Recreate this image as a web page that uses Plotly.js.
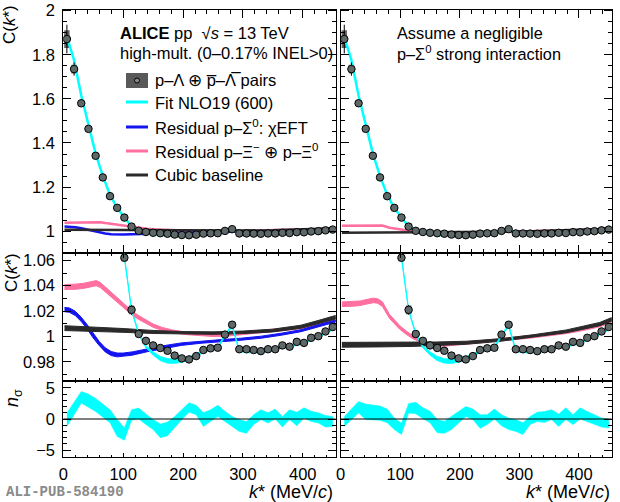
<!DOCTYPE html>
<html><head><meta charset="utf-8">
<script src="https://cdn.plot.ly/plotly-3.0.1.min.js"></script>
<style>html,body{margin:0;padding:0;background:#fff}#plot{width:620px;height:502px}</style>
</head><body><div id="plot"></div>
<script>
// ---------- data ----------
const kData = [6,18,30,42,54,66,78,90,102,114,126,138,150,162,174,186,198,210,222,234,246,258,270,282,294,306,318,330,342,354,366,378,390,402,414,426,438,450];
const cData = [1.871,1.735,1.580,1.464,1.342,1.244,1.159,1.106,1.062,1.021,1.002,0.9966,0.993,0.991,0.9888,0.985,0.9828,0.982,0.9846,0.9894,0.9907,0.9912,1.0015,1.0093,0.990,0.990,0.9894,0.9885,0.990,0.990,0.993,0.992,0.9958,0.995,0.999,1.0003,1.004,1.0075];
const statErr = [0.065,0.03,0.016,0.011,0.008,0.006,0.005,0.0045,0.003,0.0038,0.0025,0.002,0.002,0.0018,0.0018,0.0016,0.0016,0.0015,0.0015,0.0014,0.0014,0.0013,0.0013,0.0013,0.0012,0.0012,0.0012,0.0011,0.0011,0.0011,0.0011,0.001,0.001,0.001,0.001,0.001,0.001,0.001];
const systErr = [0.04,0.02,0.012,0.009,0.007,0.005,0.004,0.0035,0.0028,0.0035,0.0022,0.0018,0.0017,0.0016,0.0016,0.0015,0.0015,0.0015,0.0015,0.0015,0.0015,0.0015,0.0015,0.0015,0.0015,0.0015,0.0015,0.0015,0.0015,0.0015,0.0015,0.0015,0.0015,0.0015,0.0015,0.0015,0.0015,0.0015];

// Fit NLO19 (600), evaluated at bin centres
const fitC  = [1.882,1.775,1.615,1.478,1.352,1.25,1.165,1.105,1.062,1.021,1.002,0.992,0.9867,0.9827,0.9808,0.9806,0.9814,0.9827,0.985,0.9886,0.990,0.991,1.001,1.0085,0.989,0.988,0.988,0.988,0.989,0.990,0.992,0.992,0.994,0.995,0.998,1.000,1.003,1.006];
const fitCh = [0.004,0.003,0.003,0.003,0.002,0.002,0.0015,0.001,0.0006,0.0006,0.0006,0.0008,0.0012,0.0016,0.0017,0.0017,0.0016,0.0015,0.0013,0.001,0.0008,0.0008,0.0008,0.0008,0.0008,0.0008,0.0008,0.0008,0.0008,0.0008,0.0008,0.0008,0.0008,0.0008,0.0008,0.0008,0.0008,0.0008];

// Left: residual p-Sigma0 chiEFT
const kBlueL = [2,10,20,30,40,50,60,70,80,90,100,115,140,165,197,230,264,297,331,364,397,427,455];
const blueL  = [1.0212,1.0208,1.0182,1.0135,1.0075,1.0005,0.9945,0.9895,0.9866,0.9855,0.9856,0.9866,0.9892,0.9915,0.9940,0.9956,0.9968,0.9979,0.9995,1.0018,1.0046,1.0087,1.0122];
const blueLh = [0.0017,0.0017,0.0017,0.0017,0.0017,0.0017,0.0016,0.0016,0.0016,0.0015,0.0014,0.0013,0.0012,0.0011,0.001,0.0009,0.0008,0.0008,0.0008,0.0008,0.0008,0.0008,0.0008];

// Left: residual p-Xi
const kPinkL = [2,20,35,48,55,62,70,83,95,105,116,127,140,150,165,183,205,228,250,272,295,317,340,362,385,406,427,455];
const pinkL  = [1.039,1.0392,1.040,1.0413,1.042,1.0405,1.037,1.032,1.027,1.0225,1.018,1.0147,1.011,1.0086,1.006,1.004,1.0025,1.0015,1.001,1.0012,1.002,1.0032,1.0042,1.0054,1.0065,1.0078,1.0100,1.0138];
const pinkLh = [0.002,0.002,0.002,0.002,0.002,0.002,0.002,0.002,0.0018,0.0017,0.0016,0.0015,0.0014,0.0013,0.0012,0.0011,0.001,0.001,0.001,0.001,0.001,0.001,0.001,0.001,0.001,0.001,0.001,0.0011];

// Left: cubic baseline
const kBlackL = [2,50,100,150,200,250,300,350,397,427,455];
const blackL  = [1.0066,1.0058,1.0048,1.0036,1.0029,1.0027,1.0033,1.0047,1.0077,1.0115,1.0152];
const blackLh = [0.0019,0.0017,0.0015,0.0012,0.001,0.001,0.001,0.0011,0.0012,0.0013,0.0014];

// Right: residual p-Xi
const kPinkR = [2,20,33,45,55,62,70,82,99,110,121,133,144,158,172,190,211,240,267,295,323,351,379,407,435,455];
const pinkR  = [1.0254,1.0256,1.0262,1.0275,1.0284,1.028,1.0255,1.0158,1.0072,1.003,0.9995,0.997,0.9948,0.9938,0.9933,0.9936,0.9946,0.996,0.9974,0.9987,1.0,1.0015,1.0033,1.0057,1.0087,1.0122];
const pinkRh = [0.0018,0.0018,0.0018,0.0018,0.0018,0.0018,0.0018,0.0016,0.0014,0.0013,0.0012,0.0011,0.001,0.001,0.001,0.001,0.001,0.001,0.001,0.001,0.001,0.001,0.001,0.001,0.001,0.0011];

// Right: cubic baseline
const kBlackR = [2,60,120,160,211,267,323,379,435,455];
const blackR  = [0.9935,0.9936,0.9938,0.9943,0.9951,0.9972,1.0004,1.0041,1.0098,1.0135];
const blackRh = [0.0019,0.0018,0.0016,0.0014,0.0012,0.001,0.001,0.0011,0.0013,0.0014];

// n_sigma bands
const nsL_lo = [-1.2,0.7,2.55,1.9,1.2,0.3,-0.6,-2.8,-3.4,-0.2,0,-0.9,-1.7,-3.0,-2.7,-1.4,-0.1,1.1,0.7,-1.2,-0.4,0.4,-0.4,-1.2,-2.0,-2.3,-0.9,-0.1,-0.65,0,-1.3,-0.1,-1.1,0.15,-0.4,-0.65,-1.3,-1.2];
const nsL_hi = [0.95,2.7,4.4,4.0,3.3,2.4,1.5,-0.1,-1.4,1.5,1.75,0.8,-0.1,-0.8,-0.5,0.4,1.5,2.6,2.2,1.0,1.5,2.2,1.25,0.4,-0.1,-0.4,0.7,1.5,1.0,1.6,0.4,1.5,1.1,1.8,1.25,1.0,0.55,0.4];
const nsR_lo = [-1.2,-0.2,0.95,-0.1,-0.15,-0.2,-0.6,-1.7,-2.5,0.95,0.85,0.05,-0.6,-2.2,-2.3,-1.7,-0.65,0.4,-0.1,-1.5,-0.9,0,-1.1,-1.7,-2.0,-2.5,-0.9,-0.4,-0.55,-0.1,-1.2,-0.1,-0.9,0,-0.4,-0.9,-1.3,-1.45];
const nsR_hi = [0.4,1.6,2.8,2.4,2.25,2.1,1.6,0.15,-0.7,2.5,2.7,1.8,1.25,-0.1,-0.35,0.4,1.25,2.0,1.6,0.7,0.7,1.6,0.7,0.15,-0.1,-0.6,0.4,1.1,1.2,1.5,0.8,1.8,0.7,1.8,1.2,0.7,0.15,0];

const xTicks = [0,100,200,300,400];

// ---------- colours ----------
const CYAN='#00ffff', BLUE='#1414f0', PINK='#ff6f9f', BLACK='#2a2a2a';

// ---------- helpers ----------
function line(k, c, color, w, xa, ya){
  return {type:'scatter', mode:'lines', x:k, y:c, xaxis:xa, yaxis:ya,
          line:{color:color, width:w}, hoverinfo:'skip'};
}
function band(k, c, h, color, xa, ya){
  const xs = k.concat(k.slice().reverse());
  const ys = c.map((v,i)=>v+h[i]).concat(c.map((v,i)=>v-h[i]).reverse());
  return {type:'scatter', mode:'lines', x:xs, y:ys, xaxis:xa, yaxis:ya, fill:'toself',
          fillcolor:color, line:{color:color, width:1}, hoverinfo:'skip'};
}
function loHiBand(k, lo, hi, color, xa, ya){
  const xs = k.concat(k.slice().reverse());
  const ys = hi.concat(lo.slice().reverse());
  return {type:'scatter', mode:'lines', x:xs, y:ys, xaxis:xa, yaxis:ya, fill:'toself',
          fillcolor:color, line:{color:color, width:0.5}, hoverinfo:'skip'};
}
function syst(xa, ya){
  return {type:'bar', x:kData, y:systErr.map(s=>2*s), base:cData.map((c,i)=>c-systErr[i]),
          width:9, xaxis:xa, yaxis:ya, marker:{color:'rgba(60,60,60,0.8)', line:{width:0}}, hoverinfo:'skip'};
}
function pts(xa, ya){
  return {type:'scatter', mode:'markers', x:kData, y:cData, xaxis:xa, yaxis:ya,
          error_y:{type:'data', array:statErr, color:'#000', thickness:1, width:0},
          marker:{symbol:'circle', size:7.5, color:'#5e6868', line:{color:'#000', width:1}}, hoverinfo:'skip'};
}

const traces = [];
// top left
traces.push(syst('x','y'));
traces.push(line(kPinkL, pinkL, PINK, 2.5, 'x','y'));
traces.push(line(kBlueL, blueL, BLUE, 2.5, 'x','y'));
traces.push(line(kBlackL, blackL, BLACK, 2.5, 'x','y'));
traces.push(line(kData, fitC, CYAN, 2.5, 'x','y'));
traces.push(pts('x','y'));
// top right
traces.push(syst('x2','y2'));
traces.push(line(kPinkR, pinkR, PINK, 2.5, 'x2','y2'));
traces.push(line(kBlackR, blackR, BLACK, 2.5, 'x2','y2'));
traces.push(line(kData, fitC, CYAN, 2.5, 'x2','y2'));
traces.push(pts('x2','y2'));
// middle left
traces.push(syst('x3','y3'));
traces.push(band(kPinkL, pinkL, pinkLh, PINK, 'x3','y3'));
traces.push(band(kBlueL, blueL, blueLh, BLUE, 'x3','y3'));
traces.push(band(kBlackL, blackL, blackLh, BLACK, 'x3','y3'));
traces.push(band(kData, fitC, fitCh, CYAN, 'x3','y3'));
traces.push(pts('x3','y3'));
// middle right
traces.push(syst('x4','y4'));
traces.push(band(kPinkR, pinkR, pinkRh, PINK, 'x4','y4'));
traces.push(band(kBlackR, blackR, blackRh, BLACK, 'x4','y4'));
traces.push(band(kData, fitC, fitCh, CYAN, 'x4','y4'));
traces.push(pts('x4','y4'));
// bottom
traces.push(loHiBand(kData, nsL_lo, nsL_hi, CYAN, 'x5','y5'));
traces.push(loHiBand(kData, nsR_lo, nsR_hi, CYAN, 'x6','y6'));

// ---------- layout ----------
const W=620, H=502;
const fx = p => p/W, fy = p => 1 - p/H;
const xL=[fx(63.3), fx(335.7)], xR=[fx(340.7), fx(611.7)];
const yT=[fy(253.3), fy(9.5)], yM=[fy(381), fy(253.3)], yB=[fy(457), fy(381)];
const FONT='Liberation Sans, Arial, Helvetica, sans-serif';

function xax(domain, anchor, labels, tl, mtl){
  return {domain:domain, anchor:anchor, range:[0,455], tickvals:xTicks, ticktext:xTicks.map(String),
    ticks:'inside', ticklen:tl, tickwidth:1, tickcolor:'#000',
    showline:true, linecolor:'#000', linewidth:1, mirror:'allticks',
    showgrid:false, zeroline:false, showticklabels:labels, ticklabelstandoff:2,
    tickfont:{family:FONT, size:16.5, color:'#000'},
    minor:{ticks:'inside', ticklen:mtl, dtick:20, tick0:0, tickcolor:'#000', tickwidth:1, showgrid:false},
    fixedrange:true};
}
function yax(domain, anchor, labels, range, dtick, mdtick){
  return {domain:domain, anchor:anchor, range:range, dtick:dtick, tick0:0,
    ticks:'inside', ticklen:8, tickwidth:1, tickcolor:'#000',
    showline:true, linecolor:'#000', linewidth:1, mirror:'allticks',
    showgrid:false, zeroline:false, showticklabels:labels, ticklabelstandoff:4,
    tickfont:{family:FONT, size:16.5, color:'#000'},
    minor:{ticks:'inside', ticklen:4, dtick:mdtick, tick0:0, tickcolor:'#000', tickwidth:1, showgrid:false},
    fixedrange:true};
}
const rT=[0.9,2.005], rM=[0.965,1.0655], rB=[-6.1,6.1];

function ann(text, x, y, size, xanchor, extra){
  return Object.assign({text:text, x:fx(x), y:fy(y), xref:'paper', yref:'paper', showarrow:false,
    xanchor:xanchor||'left', yanchor:'middle', font:{family:FONT, size:size, color:'#000'}}, extra||{});
}

const annotations = [
  ann('C(<i>k</i>*)', 10, 25, 17, 'center', {textangle:-90}),
  ann('C(<i>k</i>*)', 11, 273, 17, 'center', {textangle:-90}),
  ann('<i>n</i><sub>σ</sub>', 13, 398, 18, 'center', {textangle:-90}),
  ann('<i>k</i>* (MeV/<i>c</i>)', 335, 492, 18, 'right'),
  ann('<i>k</i>* (MeV/<i>c</i>)', 612, 492, 18, 'right'),
  ann('<b>ALI-PUB-584190</b>', 4, 492, 14, 'left', {font:{family:'Liberation Mono, DejaVu Sans Mono, monospace', size:14, color:'#8a8a8a'}}),
  ann('<b>ALICE</b> pp  √<i>s</i> = 13 TeV', 118, 33, 16.5),
  ann('high-mult. (0–0.17% INEL&gt;0)', 118, 53, 16.5),
  ann('Assume a negligible', 395, 33, 16.3),
  ann('p–Σ<sup>0</sup> strong interaction', 395, 53, 16.3),
  ann('p–Λ ⊕ p\u0305–Λ\u0305 pairs', 153, 80, 16.5),
  ann('Fit NLO19 (600)', 153, 103, 16.5),
  ann('Residual p–Σ<sup>0</sup>: χEFT', 153, 127, 16.5),
  ann('Residual p–Ξ<sup>−</sup> ⊕ p–Ξ<sup>0</sup>', 153, 151, 16.5),
  ann('Cubic baseline', 153, 175, 16.5)
];

function pline(x0,x1,y,color){
  return {type:'line', xref:'paper', yref:'paper', x0:fx(x0), x1:fx(x1), y0:fy(y), y1:fy(y), line:{color:color, width:3}};
}
const shapes = [
  {type:'rect', xref:'paper', yref:'paper', x0:fx(126), x1:fx(148), y0:fy(88), y1:fy(73), fillcolor:'rgba(60,60,60,0.85)', line:{width:0}},
  {type:'circle', xref:'paper', yref:'paper', x0:fx(134.5), x1:fx(139.5), y0:fy(83), y1:fy(78), fillcolor:'#8a8a8a', line:{color:'#000', width:1}},
  pline(126,148,102,CYAN),
  pline(126,148,127,BLUE),
  pline(126,148,151,PINK),
  pline(126,148,175,BLACK),
  {type:'line', xref:'x5', yref:'y5', x0:0, x1:455, y0:0, y1:0, line:{color:'#000', width:1}},
  {type:'line', xref:'x6', yref:'y6', x0:0, x1:455, y0:0, y1:0, line:{color:'#000', width:1}}
];

const layout = {
  width:W, height:H, margin:{l:0,r:0,t:0,b:0}, paper_bgcolor:'#fff', plot_bgcolor:'#fff',
  showlegend:false, barmode:'overlay', font:{family:FONT, size:16, color:'#000'},
  xaxis: xax(xL,'y',false,8,4),  yaxis: yax(yT,'x',true,rT,0.2,0.05),
  xaxis2:xax(xR,'y2',false,8,4), yaxis2:yax(yT,'x2',false,rT,0.2,0.05),
  xaxis3:xax(xL,'y3',false,5,3), yaxis3:yax(yM,'x3',true,rM,0.02,0.01),
  xaxis4:xax(xR,'y4',false,5,3), yaxis4:yax(yM,'x4',false,rM,0.02,0.01),
  xaxis5:xax(xL,'y5',true,4,2),  yaxis5:yax(yB,'x5',true,rB,5,1),
  xaxis6:xax(xR,'y6',true,4,2),  yaxis6:yax(yB,'x6',false,rB,5,1),
  annotations:annotations, shapes:shapes
};
Plotly.newPlot('plot', traces, layout, {staticPlot:true, displayModeBar:false});
</script></body></html>
